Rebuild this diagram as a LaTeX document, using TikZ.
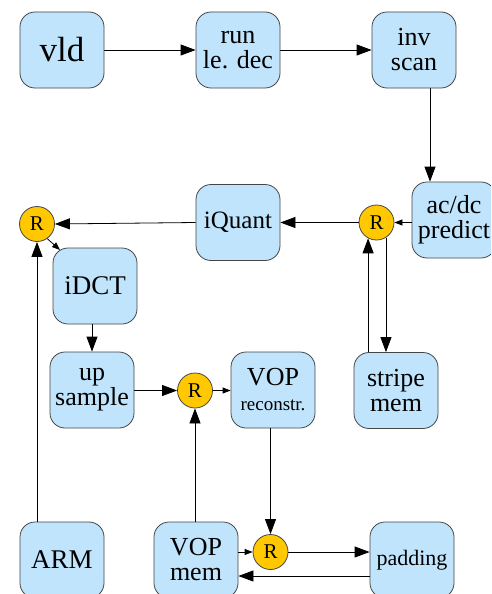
\documentclass[tikz,border=0pt]{standalone}
\usepackage{fontspec}
\setmainfont{Liberation Serif}
\usetikzlibrary{arrows.meta}
\definecolor{boxfill}{RGB}{192,228,252}
\definecolor{regfill}{RGB}{255,200,0}
\definecolor{edge}{RGB}{70,70,70}
\tikzset{
  blk/.style={draw=edge, line width=0.8pt, fill=boxfill, rounded corners=15pt,
    minimum width=84pt, minimum height=76pt, inner sep=0pt, align=center,
    font=\fontsize{26}{25}\selectfont},
  reg/.style={draw=edge, line width=0.8pt, fill=regfill, circle, minimum size=35pt,
    inner sep=0pt, font=\fontsize{21}{22}\selectfont},
  big/.style={line width=0.8pt, -{Triangle[length=15pt,width=11pt]}},
  small/.style={line width=0.8pt, -{Triangle[length=8pt,width=6pt]}},
}
\begin{document}
\begin{tikzpicture}[x=1pt,y=-1pt]
\useasboundingbox (0,0) rectangle (491,594);
\clip (0,0) rectangle (491,594);
\fill[white] (0,0) rectangle (491,594);
\node[blk, font=\fontsize{35}{35}\selectfont] (vld) at (62,50) {vld};
\node[blk] (run) at (238,50) {run\\le. dec};
\node[blk] (inv) at (414,50) {inv\\scan};
\node[blk] (acdc) at (454,220) {ac/dc\\predict};
\node[reg] (Rr) at (376.5,222.5) {R};
\node[blk, font=\fontsize{25}{25}\selectfont] (iq) at (238,222.5) {iQuant};
\node[reg] (Rl) at (37,224) {R};
\node[blk, font=\fontsize{27}{27}\selectfont] (idct) at (95,286) {iDCT};
\node[blk] (ups) at (92,390) {up\\sample};
\node[reg] (Rm) at (195,390.5) {R};
\node[blk] (vopr) at (273,390) {VOP\\{\fontsize{19}{19}\selectfont reconstr.}};
\node[blk] (stripe) at (396,390.5) {stripe\\mem};
\node[blk, font=\fontsize{27}{27}\selectfont] (arm) at (62,560) {ARM};
\node[blk] (vopm) at (196,560) {VOP\\mem};
\node[reg] (Rb) at (270.5,552) {R};
\node[blk, font=\fontsize{22}{22}\selectfont] (pad) at (412,560) {padding};
% connectors
\draw[big] (vld.east) -- (run.west);
\draw[big] (run.east) -- (inv.west);
\draw[big] ([xshift=16pt]inv.south) -- ([xshift=16pt]inv.south |- acdc.north);
\draw[small] (acdc.west |- Rr.east) -- (Rr.east);
\draw[big] (Rr.west) -- (iq.east);
\draw[big] (iq.west) -- (Rl.east);
\draw[small] (Rl.-55) -- (60,250);
\draw[big] (idct.south -| ups.north) -- (ups.north);
\draw[big] (ups.east |- Rm.west) -- (Rm.west);
\draw[small] (Rm.east) -- (vopr.west |- Rm.east);
\draw[big] (Rm.south |- vopm.north) -- (Rm.south);
\draw[big] (Rb.north |- vopr.south) -- (Rb.north);
\draw[big] (Rb.east) -- (Rb.east -| pad.west);
\draw[small] (Rb.west -| vopm.east) -- (Rb.west);
\draw[big] ([yshift=-16pt]pad.west) -- ([yshift=-16pt]pad.west -| vopm.east);
\draw[big] (Rl.south |- arm.north) -- (Rl.south);
\draw[big] (Rr.-58) -- (Rr.-58 |- stripe.north);
\draw[big] (Rr.-118 |- stripe.north) -- (Rr.-118);
\end{tikzpicture}
\end{document}
